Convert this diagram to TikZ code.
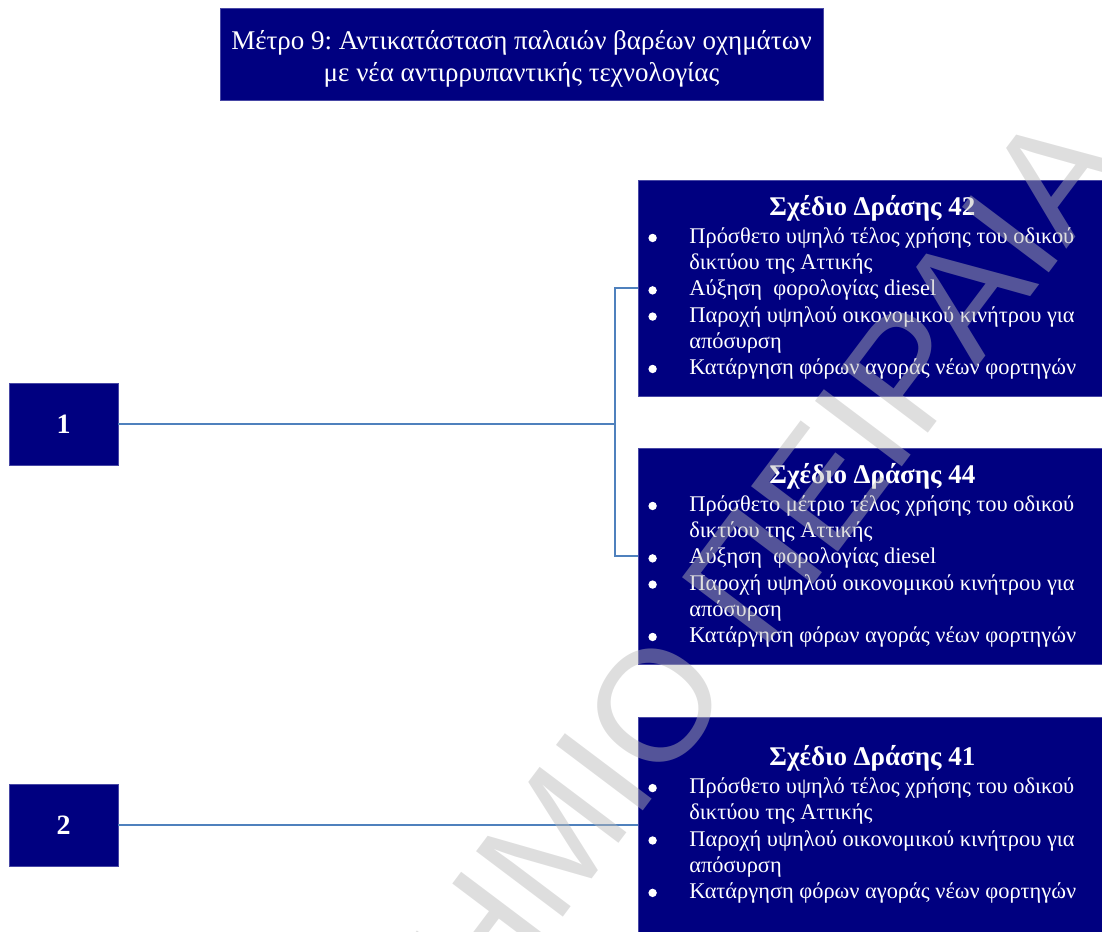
\documentclass[tikz,border=0pt]{standalone}
\usepackage{fontspec}
\setmainfont{Liberation Serif}
\newfontfamily\markfont{Liberation Sans}
\usepackage{array}
\frenchspacing
\definecolor{boxblue}{RGB}{0,0,128}
\definecolor{boxedge}{RGB}{72,72,165}
\definecolor{linkblue}{RGB}{79,129,189}
\definecolor{markgray}{RGB}{184,184,184}
\newcommand{\dotmark}{\tikz[baseline=-2.8pt]\fill[white] (0,0) circle (2.1pt);}

\begin{document}
\begin{tikzpicture}[x=0.5pt, y=-0.5pt]
        \tikzstyle{measure}=[rectangle,draw=boxedge,fill=boxblue,text=white,line width=0.4pt,inner sep=0pt]
        \tikzstyle{plan}=[measure,minimum width=234pt,minimum height=108pt,anchor=west,font=\fontsize{11.2}{13.1}\selectfont]
        \tikzstyle{group}=[measure,minimum width=54.5pt,minimum height=41pt,font=\fontsize{14}{16}\selectfont\bfseries]
        \tikzstyle{link}=[draw=linkblue,line width=1.1pt]

        \useasboundingbox (0,0) rectangle (1102,931);
        \clip (0,0) rectangle (1102,931);

        % Draw the title node
        \node[measure,minimum width=301.5pt,minimum height=46pt,align=center,font=\fontsize{13.5}{16}\selectfont]
            (title) at (521.5,54) {\rule{0pt}{14pt}Μέτρο 9: Αντικατάσταση παλαιών βαρέων οχημάτων\\με νέα αντιρρυπαντικής τεχνολογίας};

        % Draw the group nodes
        \foreach \name / \y in {1/424, 2/825}
            \node[group] (G-\name) at (63.5,\y) {\name};

        % Draw the action plan nodes
        \node[plan] (P-42) at (638,288) {%
            \begin{tabular}{@{}p{20.5pt}@{}l@{}}
            \multicolumn{2}{@{}c@{}}{\makebox[224pt]{\rule{0pt}{11pt}\fontsize{13.5}{14}\selectfont\bfseries Σχέδιο Δράσης 42}}\\[0.9pt]
            \dotmark & Πρόσθετο υψηλό τέλος χρήσης του οδικού\\
                     & δικτύου της Αττικής\\
            \dotmark & Αύξηση\ \ φορολογίας diesel\\
            \dotmark & Παροχή υψηλού οικονομικού κινήτρου για\\
                     & απόσυρση\\
            \dotmark & Κατάργηση φόρων αγοράς νέων φορτηγών
            \end{tabular}};
        \node[plan] (P-44) at (638,556) {%
            \begin{tabular}{@{}p{20.5pt}@{}l@{}}
            \multicolumn{2}{@{}c@{}}{\makebox[224pt]{\rule{0pt}{11pt}\fontsize{13.5}{14}\selectfont\bfseries Σχέδιο Δράσης 44}}\\[0.9pt]
            \dotmark & Πρόσθετο μέτριο τέλος χρήσης του οδικού\\
                     & δικτύου της Αττικής\\
            \dotmark & Αύξηση\ \ φορολογίας diesel\\
            \dotmark & Παροχή υψηλού οικονομικού κινήτρου για\\
                     & απόσυρση\\
            \dotmark & Κατάργηση φόρων αγοράς νέων φορτηγών
            \end{tabular}};
        \node[plan] (P-41) at (638,825) {%
            \begin{tabular}{@{}p{20.5pt}@{}l@{}}
            \multicolumn{2}{@{}c@{}}{\makebox[224pt]{\rule{0pt}{11pt}\fontsize{13.5}{14}\selectfont\bfseries Σχέδιο Δράσης 41}}\\[0.9pt]
            \dotmark & Πρόσθετο υψηλό τέλος χρήσης του οδικού\\
                     & δικτύου της Αττικής\\
            \dotmark & Παροχή υψηλού οικονομικού κινήτρου για\\
                     & απόσυρση\\
            \dotmark & Κατάργηση φόρων αγοράς νέων φορτηγών
            \end{tabular}};

        % Connect the groups with their action plans
        \coordinate (fork) at (615,424);
        \draw[link] (G-1.east) -- (fork) |- (P-42.west);
        \draw[link] (fork) |- (P-44.west);
        \draw[link] (G-2.east) -- (P-41.west);

        % Draw the watermark over everything
        \node[text=markgray,text opacity=0.46,rotate=53,inner sep=0pt,font=\markfont\fontsize{79}{79}\selectfont]
            (mark) at (527,875) {ΠΑΝΕΠΙΣΤΗΜΙΟ ΠΕΙΡΑΙΑ};
    \end{tikzpicture}
\end{document}
